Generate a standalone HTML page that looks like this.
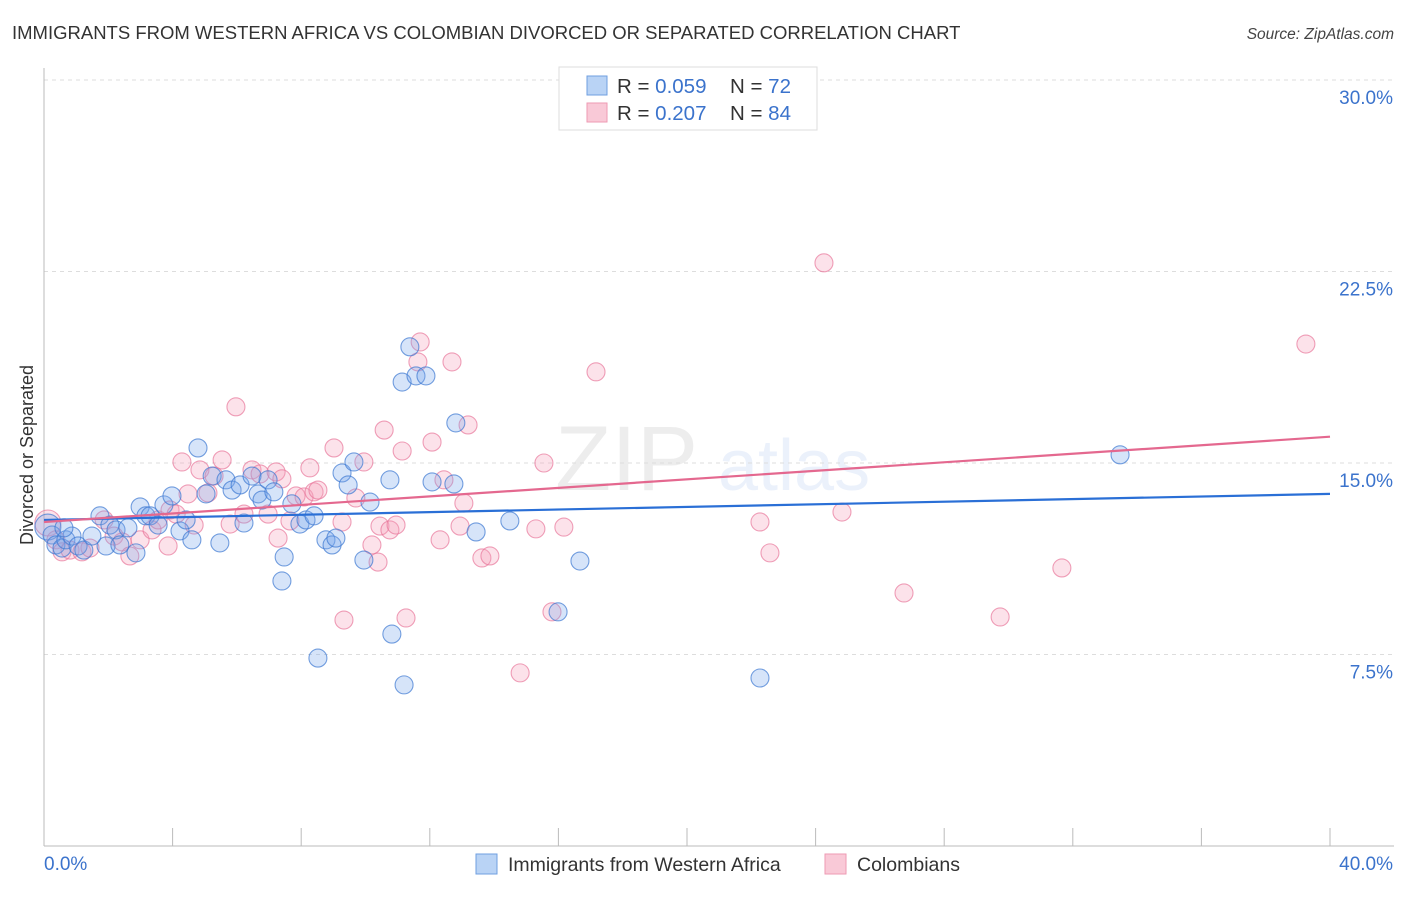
<!DOCTYPE html>
<html><head><meta charset="utf-8"><style>
body{margin:0;background:#fff;font-family:"Liberation Sans",sans-serif;}
svg text{font-family:"Liberation Sans",sans-serif;}
</style></head><body>
<svg id="chart" width="1406" height="892" xmlns="http://www.w3.org/2000/svg">
<text x="12" y="39" font-size="18.5" fill="#333">IMMIGRANTS FROM WESTERN AFRICA VS COLOMBIAN DIVORCED OR SEPARATED CORRELATION CHART</text>
<text x="1394" y="39" font-size="15.5" font-style="italic" fill="#444" text-anchor="end">Source: ZipAtlas.com</text>
<g>
<text x="555" y="490" font-size="92" font-family="Liberation Serif" fill="#000" fill-opacity="0.07">ZIP</text>
<text x="718" y="490" font-size="72" fill="#5b8fdc" fill-opacity="0.12">atlas</text>
</g>
<g id="grid"></g>
<g id="axes"></g>
<g id="pts"></g>
<g id="lines"></g>
<text transform="translate(33,455) rotate(-90)" font-size="18" fill="#333" text-anchor="middle">Divorced or Separated</text>
<g>
<rect x="559" y="67" width="258" height="63" fill="#fff" stroke="#ddd"/>
<rect x="587" y="76" width="20" height="19" fill="#b9d3f5" stroke="#6f9fe0"/>
<rect x="587" y="103" width="20" height="19" fill="#f9c9d7" stroke="#ee9ab3"/>
<text x="617" y="93" font-size="20.5" fill="#333">R = <tspan fill="#3b73cc">0.059</tspan></text>
<text x="730" y="93" font-size="20.5" fill="#333">N = <tspan fill="#3b73cc">72</tspan></text>
<text x="617" y="120" font-size="20.5" fill="#333">R = <tspan fill="#3b73cc">0.207</tspan></text>
<text x="730" y="120" font-size="20.5" fill="#333">N = <tspan fill="#3b73cc">84</tspan></text>
</g>
<g>
<rect x="476" y="854" width="21" height="20" fill="#b9d3f5" stroke="#6f9fe0"/>
<text x="508" y="871" font-size="19.5" fill="#333">Immigrants from Western Africa</text>
<rect x="825" y="854" width="21" height="20" fill="#f9c9d7" stroke="#ee9ab3"/>
<text x="857" y="871" font-size="19.5" fill="#333">Colombians</text>
</g>
</svg>
<script>
const yTicks=[7.5,15,22.5,30];
const yTickLabels=["7.5%","15.0%","22.5%","30.0%"];
const xTickLabels=["0.0%","40.0%"];
const blueX=[0.12,0.25,0.37,0.56,0.68,0.87,1.06,1.24,1.74,1.93,2.05,2.24,2.61,2.86,2.99,3.17,3.30,3.55,3.73,3.98,4.23,4.42,4.60,4.79,5.04,5.23,5.47,5.66,5.85,6.10,6.22,6.47,6.66,6.78,6.97,7.15,7.47,7.40,7.71,7.96,8.15,8.40,8.52,8.77,8.96,9.08,9.27,9.46,9.64,9.95,10.14,10.82,10.76,11.14,11.20,11.38,11.57,11.88,12.07,12.75,12.81,13.44,14.49,15.99,16.67,22.27,33.47,0.62,1.49,2.36];
const blueY=[12.49,12.18,11.79,11.67,11.99,12.14,11.75,11.59,12.93,11.75,12.57,12.38,12.46,11.48,13.28,12.93,12.93,12.57,13.36,13.71,12.34,12.77,11.99,15.59,13.79,14.49,11.87,14.34,13.94,14.14,12.65,14.49,13.79,13.55,14.34,13.87,11.32,10.38,13.40,12.61,12.77,12.93,7.36,11.99,11.79,12.06,14.61,14.14,15.04,11.20,13.47,8.30,14.34,18.17,6.31,19.55,18.41,18.41,14.26,14.18,16.57,12.30,12.73,9.17,11.16,6.58,15.32,12.46,12.14,11.79];
const pinkX=[0.12,0.37,0.56,0.81,1.18,1.43,1.87,2.18,2.43,2.67,2.99,3.36,3.55,3.86,3.92,4.11,4.29,4.48,4.67,4.85,5.10,5.29,5.54,5.79,5.97,6.22,6.47,6.72,6.97,7.22,7.40,7.28,7.65,7.84,8.09,8.27,8.40,8.52,9.27,9.33,9.02,9.70,9.95,10.20,10.39,10.45,10.58,10.76,10.95,11.14,11.26,11.63,11.70,12.07,12.32,12.44,12.69,12.94,13.06,13.19,13.62,13.87,14.81,15.30,15.55,15.80,16.17,17.17,22.27,22.58,24.26,24.82,26.75,29.74,31.66,39.25];
const pinkY=[12.65,11.99,11.52,11.59,11.52,11.67,12.77,12.14,11.91,11.36,11.99,12.38,12.77,11.75,13.16,13.00,15.04,13.79,12.57,14.73,13.83,14.49,15.12,12.61,17.20,13.00,14.73,14.57,13.00,14.65,14.38,12.06,12.73,13.71,13.67,14.81,13.87,13.94,12.69,8.85,15.59,13.63,15.04,11.79,11.12,12.53,16.29,12.38,12.57,15.47,8.93,18.96,19.74,15.82,11.99,14.34,18.96,12.53,13.43,16.49,11.28,11.36,6.78,12.42,15.00,9.17,12.49,18.57,12.69,11.48,22.84,13.08,9.91,8.97,10.89,19.66];
const blueTrend=[12.77,13.79];
const pinkTrend=[12.69,16.03];
const NS="http://www.w3.org/2000/svg";
const X0=44,X1=1330,Y0=846,Y30=80;
function sx(v){return X0+(v/40)*(X1-X0);}
function sy(v){return Y0-(v/30)*(Y0-Y30);}
function mk(tag,attrs,parent){const e=document.createElementNS(NS,tag);for(const k in attrs)e.setAttribute(k,attrs[k]);parent.appendChild(e);return e;}
const grid=document.getElementById('grid'),axes=document.getElementById('axes'),pts=document.getElementById('pts'),lines=document.getElementById('lines');
yTicks.forEach((t,i)=>{
 const l=mk('line',{x1:X0,x2:1394,y1:sy(t),y2:sy(t),stroke:'#ddd','stroke-dasharray':'4,4'},grid);
 
 
 const tx=mk('text',{x:1393,y:sy(t)+24,'font-size':19,fill:'#3b73cc','text-anchor':'end'},axes);
 tx.textContent=yTickLabels[i];
 
 
});
const ya=mk('line',{x1:X0,x2:X0,y1:68,y2:Y0,stroke:'#bbb'},axes);


const xa=mk('line',{x1:X0,x2:1394,y1:Y0,y2:Y0,stroke:'#bbb'},axes);


for(let i=0;i<=10;i++){
 const tk=mk('line',{x1:sx(i*4),x2:sx(i*4),y1:Y0,y2:Y0-18,stroke:'#bbb'},axes);
 
 
}
[[0,'start',44],[40,'end',1393]].forEach((d,i)=>{
 const tx=mk('text',{x:d[2],y:870,'font-size':19,fill:'#3b73cc','text-anchor':d[1]},axes);
 tx.textContent=xTickLabels[i];
 
 
});
function drawSeries(xs,ys,fill,stroke,name){
 xs.forEach((x,i)=>{
  const c=mk('circle',{cx:sx(x),cy:sy(ys[i]),r:(i===0?13:9),fill:fill,stroke:stroke,'stroke-width':1.1},pts);
  
  
 });
}
drawSeries(pinkX,pinkY,'rgba(244,160,185,0.3)','rgba(232,120,155,0.7)','point-colombians');
drawSeries(blueX,blueY,'rgba(120,165,235,0.3)','rgba(60,120,210,0.7)','point-western-africa');
const bl=mk('line',{x1:sx(0),y1:sy(blueTrend[0]),x2:sx(40),y2:sy(blueTrend[1]),stroke:'#2a6fd6','stroke-width':2.2},lines);


const pl=mk('line',{x1:sx(0),y1:sy(pinkTrend[0]),x2:sx(40),y2:sy(pinkTrend[1]),stroke:'#e4688f','stroke-width':2.2},lines);


</script>
</body></html>
